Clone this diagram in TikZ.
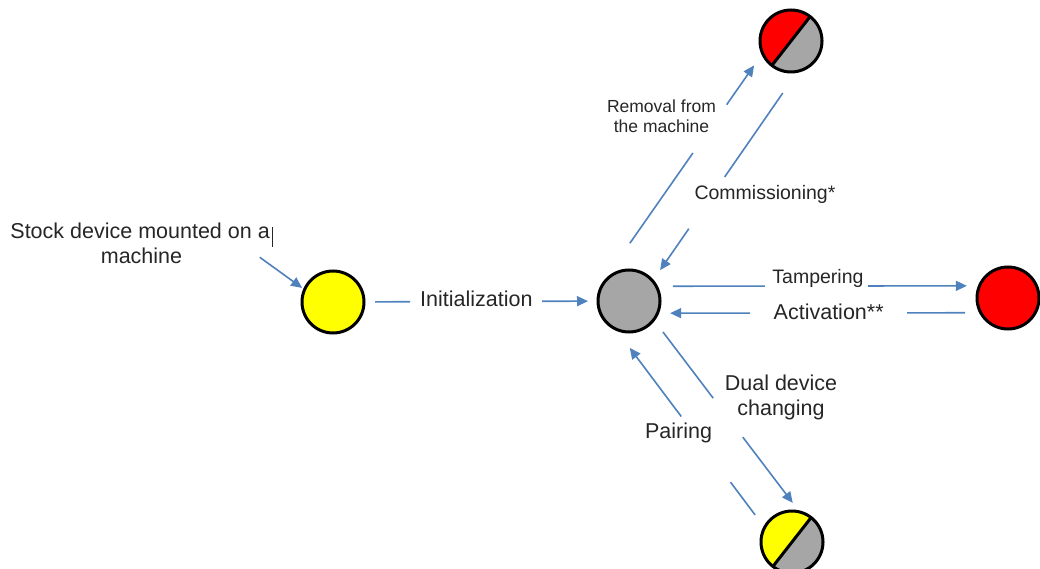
\documentclass[tikz,border=0pt]{standalone}
\usepackage{fontspec}
\setmainfont{Liberation Sans}
\usetikzlibrary{arrows.meta,calc}
\definecolor{arrblue}{HTML}{4F81BD}
\definecolor{devgray}{HTML}{A6A6A6}
\definecolor{devred}{HTML}{FF0000}
\definecolor{devyellow}{HTML}{FFFF00}
\tikzset{
  dev/.style={circle,draw=black,line width=3pt,minimum size=62pt,inner sep=0pt},
  halfdev/.style 2 args={dev,fill=#2,path picture={
      \fill[#1] ($(path picture bounding box.center)+(52:40pt)$)
        -- ($(path picture bounding box.center)+(232:40pt)$) -- ++(142:45pt) -- ++(52:80pt) -- cycle;
      \draw[line width=3pt] ($(path picture bounding box.center)+(52:40pt)$)
        -- ($(path picture bounding box.center)+(232:40pt)$);}},
  arr/.style={draw=arrblue,line width=1.6pt,-{Triangle[length=11pt,width=10pt]}},
  brk/.style 2 args={dash pattern=on #1pt off #2pt on 500pt},
  lbl/.style={inner sep=0pt,align=center,text=black!85},
  lblmid/.style={lbl,font=\fontsize{19.5}{23}\selectfont},
  lblsmall/.style={lbl,font=\fontsize{17.5}{20}\selectfont},
}

\begin{document}
\begin{tikzpicture}[x=1pt,y=-1pt,font=\fontsize{21.5}{25}\selectfont]
  \useasboundingbox (0,0) rectangle (1040,569);
  \node[dev,fill=devyellow] (fresh) at (333,302) {};
  \node[dev,fill=devgray] (idle) at (629,301) {};
  \node[dev,fill=devred] (tamper) at (1008,298) {};
  \node[halfdev={devred}{devgray}] (removed) at (791,41) {};
  \node[halfdev={devyellow}{devgray}] (swap) at (792,542) {};

  \node[lbl] (stock) at (141.5,243.7)
    {Stock device mounted on a\kern2pt\rule[-8pt]{0.8pt}{20pt}\\machine};
  \draw[arr,shorten >=1.5pt] ([xshift=-13pt,yshift=7pt]stock.south east) -- (fresh.156);

  \draw[arr,brk={35}{132},shorten <=9.5pt,shorten >=8.5pt] (fresh) --
    node[lbl,pos=.48,anchor=base,yshift=-5pt] (init) {Initialization} (idle);

  \draw[arr,brk={92}{103},shorten <=15pt,shorten >=11pt] (idle.27.5) --
    node[lblmid,pos=.5,anchor=base,yshift=3pt] (tamp) {Tampering} (tamper.158.3);
  \draw[arr,brk={58}{157},shorten <=14pt,shorten >=11pt] (tamper.207.5) --
    node[lbl,pos=.47,anchor=base,yshift=-7pt] (act) {Activation**} (idle.338.3);

  \draw[arr,brk={110}{59},shorten <=45pt,shorten >=13pt] (idle.140) -- (removed.205);
  \node[lblsmall] (remlbl) at (661.5,116.6) {Removal from\\the machine};
  \draw[arr,brk={102}{63},shorten <=24.4pt,shorten >=11.6pt] (removed.280) -- (idle.41);
  \node[lblmid,anchor=base] (comlbl) at (765,200) {Commissioning*};

  \draw[arr,brk={83}{49},shorten <=13.8pt,shorten >=9pt] (idle.322) -- (swap.79);
  \node[lbl] (duallbl) at (781,397) {Dual device\\changing};
  \draw[arr,brk={41}{82},shorten <=14.2pt,shorten >=20.7pt] (swap.151) -- (idle.249);
  \node[lbl,anchor=base] (pairlbl) at (678.5,438) {Pairing};
\end{tikzpicture}
\end{document}
